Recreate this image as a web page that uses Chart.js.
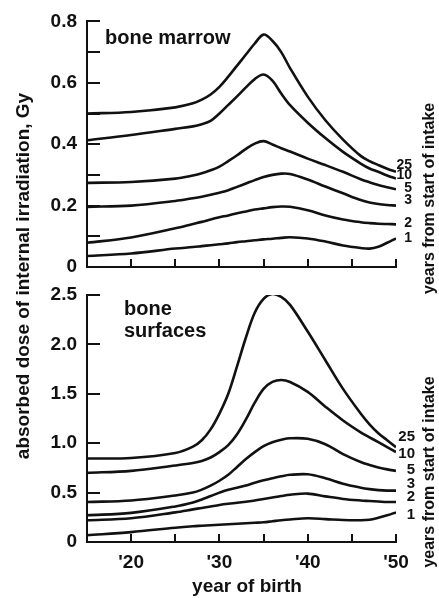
<!DOCTYPE html>
<html>
<head>
<meta charset="utf-8">
<script src="https://cdn.jsdelivr.net/npm/chart.js@4.4.0/dist/chart.umd.min.js"></script>
<style>
html, body { margin: 0; padding: 0; background: #fff; }
#wrap { position: relative; width: 439px; height: 598px; }
canvas { position: absolute; left: 0; top: 0; }
</style>
</head>
<body>
<div id="wrap">
  <canvas id="marrowChart" width="439" height="598"></canvas>
  <canvas id="surfaceChart" width="439" height="598"></canvas>
</div>
<script>
// year of birth (19xx)
var years = [15, 20, 25, 27, 28, 29, 30, 31, 32, 33, 34, 35, 36, 37, 38, 40, 42, 44, 46, 47, 48, 49, 50];
// years from start of intake
var curveNames = ["25", "10", "5", "3", "2", "1"];

// bone marrow, Gy
var marrow25 = [0.50, 0.505, 0.52, 0.533, 0.545, 0.562, 0.587, 0.62, 0.656, 0.692, 0.728, 0.757, 0.737, 0.70, 0.648, 0.555, 0.478, 0.415, 0.362, 0.345, 0.332, 0.32, 0.31];
var marrow10 = [0.413, 0.43, 0.45, 0.458, 0.465, 0.476, 0.50, 0.528, 0.556, 0.585, 0.612, 0.627, 0.607, 0.565, 0.527, 0.47, 0.42, 0.375, 0.337, 0.321, 0.31, 0.298, 0.288];
var marrow5 = [0.274, 0.277, 0.288, 0.298, 0.305, 0.315, 0.327, 0.345, 0.364, 0.385, 0.402, 0.41, 0.399, 0.387, 0.376, 0.353, 0.332, 0.31, 0.286, 0.276, 0.267, 0.26, 0.253];
var marrow3 = [0.196, 0.20, 0.215, 0.224, 0.229, 0.235, 0.242, 0.25, 0.261, 0.272, 0.283, 0.293, 0.30, 0.304, 0.303, 0.285, 0.262, 0.24, 0.218, 0.21, 0.205, 0.202, 0.20];
var marrow2 = [0.079, 0.096, 0.126, 0.14, 0.147, 0.155, 0.162, 0.168, 0.175, 0.181, 0.187, 0.191, 0.195, 0.197, 0.196, 0.185, 0.168, 0.155, 0.146, 0.143, 0.141, 0.14, 0.139];
var marrow1 = [0.036, 0.044, 0.06, 0.065, 0.068, 0.071, 0.074, 0.077, 0.081, 0.084, 0.087, 0.09, 0.092, 0.095, 0.097, 0.093, 0.083, 0.07, 0.062, 0.06, 0.066, 0.079, 0.093];

// bone surfaces, Gy
var surface25 = [0.845, 0.85, 0.90, 0.965, 1.03, 1.14, 1.30, 1.50, 1.78, 2.07, 2.32, 2.46, 2.51, 2.48, 2.40, 2.13, 1.84, 1.55, 1.30, 1.19, 1.10, 1.03, 0.96];
var surface10 = [0.70, 0.72, 0.775, 0.80, 0.82, 0.855, 0.91, 0.98, 1.09, 1.24, 1.41, 1.55, 1.62, 1.64, 1.62, 1.52, 1.37, 1.23, 1.11, 1.06, 1.01, 0.96, 0.91];
var surface5 = [0.405, 0.42, 0.47, 0.50, 0.53, 0.57, 0.62, 0.68, 0.76, 0.84, 0.91, 0.97, 1.01, 1.035, 1.05, 1.045, 0.99, 0.89, 0.81, 0.78, 0.755, 0.735, 0.72];
var surface3 = [0.27, 0.295, 0.36, 0.40, 0.43, 0.465, 0.50, 0.53, 0.55, 0.572, 0.60, 0.625, 0.645, 0.665, 0.68, 0.685, 0.645, 0.59, 0.55, 0.535, 0.525, 0.52, 0.52];
var surface2 = [0.22, 0.24, 0.30, 0.33, 0.345, 0.36, 0.375, 0.387, 0.397, 0.408, 0.42, 0.435, 0.45, 0.465, 0.478, 0.49, 0.462, 0.436, 0.42, 0.415, 0.41, 0.405, 0.405];
var surface1 = [0.068, 0.10, 0.145, 0.16, 0.165, 0.17, 0.175, 0.18, 0.185, 0.19, 0.195, 0.20, 0.21, 0.22, 0.228, 0.24, 0.232, 0.222, 0.22, 0.225, 0.245, 0.27, 0.30];

var marrowTicks = ["0", "0.2", "0.4", "0.6", "0.8"];
var surfaceTicks = ["0", "0.5", "1.0", "1.5", "2.0", "2.5"];
var yearTicks = ["'20", "'30", "'40", "'50"];

var ink = '#111';
var font = "'Liberation Sans', Arial, sans-serif";

function makeSets(series) {
  return series.map(function (vals, i) {
    return {
      label: curveNames[i],
      data: years.map(function (x, j) { return { x: x, y: vals[j] }; }),
      borderColor: ink,
      borderWidth: 2.6,
      pointRadius: 0,
      fill: false,
      tension: 0.35
    };
  });
}

// tick marks pointing into the plot
var inwardTicks = {
  id: 'inwardTicks',
  afterDraw: function (chart, args, opts) {
    var c = chart.ctx, a = chart.chartArea, xs = chart.scales.x, ys = chart.scales.y;
    c.save();
    c.strokeStyle = ink;
    c.lineWidth = 2;
    ys.ticks.forEach(function (t) {
      if (t.value <= 0) return;
      var py = Math.round(ys.getPixelForValue(t.value));
      c.beginPath(); c.moveTo(a.left, py); c.lineTo(a.left + opts.yLen, py); c.stroke();
    });
    xs.ticks.forEach(function (t) {
      if (t.value <= xs.min) return;
      var px = Math.round(xs.getPixelForValue(t.value));
      c.beginPath(); c.moveTo(px, a.bottom); c.lineTo(px, a.bottom - opts.xLen); c.stroke();
    });
    c.restore();
  }
};

// curve names, panel name and side captions
var annotate = {
  id: 'annotate',
  afterDraw: function (chart, args, opts) {
    var c = chart.ctx, a = chart.chartArea;
    c.save();
    c.fillStyle = ink;
    c.textBaseline = 'middle';
    c.textAlign = 'right';
    c.font = 'bold ' + opts.nameSize + 'px ' + font;
    chart.data.datasets.forEach(function (ds, i) {
      var pts = chart.getDatasetMeta(i).data;
      var p = pts[pts.length - 1];
      c.fillText(ds.label, a.right + opts.nameDx, p.y + opts.nameDy[i]);
    });

    c.textAlign = 'left';
    c.textBaseline = 'alphabetic';
    c.font = 'bold 20px ' + font;
    opts.title.forEach(function (line, i) {
      c.fillText(line, a.left + opts.titleDx, a.top + opts.titleDy + i * 22);
    });

    if (opts.xTitle) {
      c.textAlign = 'center';
      c.font = 'bold 19px ' + font;
      c.fillText(opts.xTitle, a.left + 160, a.bottom + 50);
    }

    c.font = 'bold 16px ' + font;
    c.textAlign = 'center';
    c.textBaseline = 'middle';
    c.translate(a.right + 34, a.top + 177);
    c.rotate(-Math.PI / 2);
    c.fillText('years from start of intake', 0, 0);
    c.restore();

    if (opts.yTitle) {
      c.save();
      c.fillStyle = ink;
      c.font = 'bold 19px ' + font;
      c.textAlign = 'center';
      c.textBaseline = 'middle';
      c.translate(24, 276);
      c.rotate(-Math.PI / 2);
      c.fillText(opts.yTitle, 0, 0);
      c.restore();
    }
  }
};

function makeChart(id, series, yMax, yStep, yLabel, showX, pad, xHeight, ann) {
  return new Chart(document.getElementById(id).getContext('2d'), {
    type: 'line',
    data: { datasets: makeSets(series) },
    options: {
      responsive: false,
      animation: false,
      layout: { padding: pad },
      plugins: {
        legend: { display: false },
        tooltip: { enabled: false },
        inwardTicks: { yLen: 13, xLen: 8 },
        annotate: ann
      },
      scales: {
        x: {
          type: 'linear',
          min: 15, max: 50,
          grid: { display: false, drawTicks: false },
          border: { display: true, color: ink, width: 2 },
          afterFit: function (s) { s.height = xHeight; },
          ticks: {
            display: showX,
            stepSize: 5,
            autoSkip: false,
            maxRotation: 0,
            padding: 9,
            color: ink,
            font: { family: font, size: 19, weight: 'bold' },
            callback: function (v) {
              return (v >= 20 && v % 10 === 0) ? yearTicks[(v - 20) / 10] : '';
            }
          }
        },
        y: {
          min: 0, max: yMax,
          grid: { display: false, drawTicks: false },
          border: { display: true, color: ink, width: 2 },
          afterFit: function (s) { s.width = 87; },
          ticks: {
            stepSize: yStep,
            autoSkip: false,
            padding: 10,
            color: ink,
            font: { family: font, size: 19, weight: 'bold' },
            callback: yLabel
          }
        }
      }
    },
    plugins: [inwardTicks, annotate]
  });
}

makeChart('marrowChart',
  [marrow25, marrow10, marrow5, marrow3, marrow2, marrow1],
  0.8, 0.1,
  function (v) {
    var k = Math.round(v * 10);
    return k % 2 === 0 ? marrowTicks[k / 2] : '';
  },
  false,
  { left: 0, right: 43, top: 20, bottom: 331 }, 0,
  { nameSize: 14, nameDx: 16, nameDy: [-7, -3, -1, -5, -1, 0], title: ['bone marrow'], titleDx: 18, titleDy: 23 });

makeChart('surfaceChart',
  [surface25, surface10, surface5, surface3, surface2, surface1],
  2.5, 0.5,
  function (v) { return surfaceTicks[Math.round(v * 2)]; },
  true,
  { left: 0, right: 43, top: 295, bottom: 0 }, 56,
  { nameSize: 15, nameDx: 19, nameDy: [-10, 2, -1, -7, -5, 2], title: ['bone', 'surfaces'], titleDx: 37, titleDy: 20,
    xTitle: 'year of birth',
    yTitle: 'absorbed dose of internal irradiation, Gy' });
</script>
</body>
</html>
